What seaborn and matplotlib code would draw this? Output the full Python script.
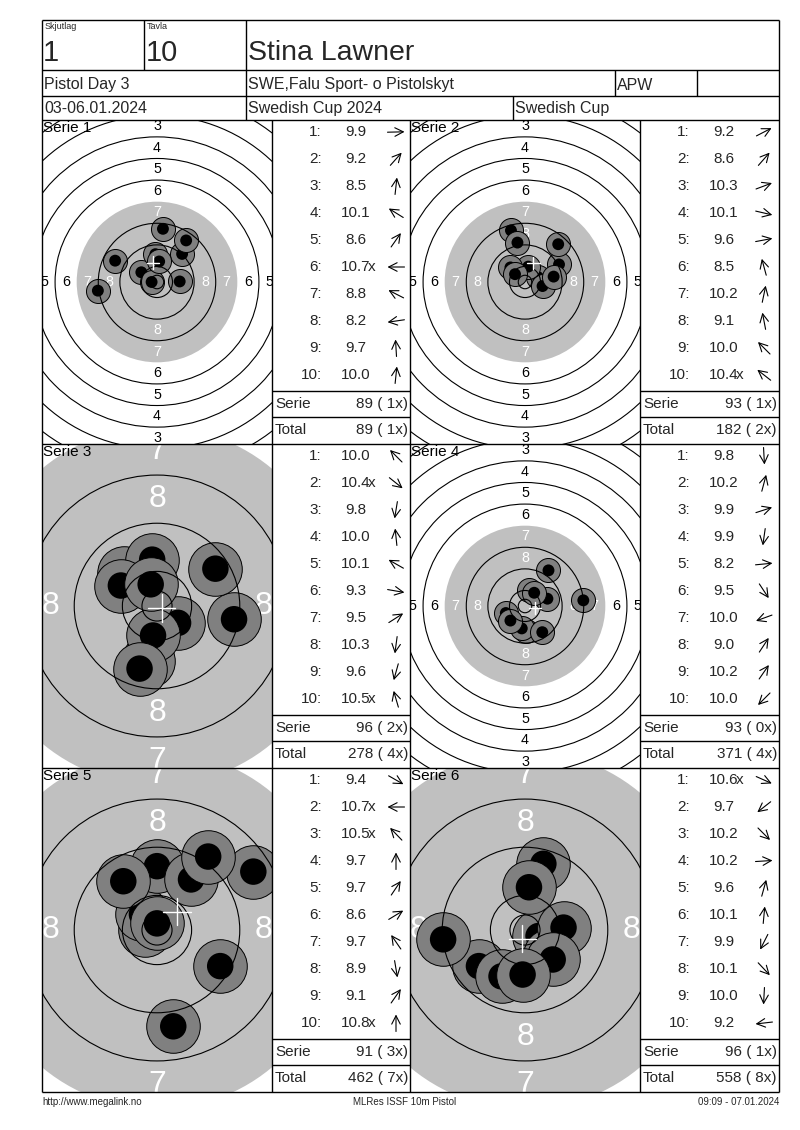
import matplotlib
matplotlib.use("Agg")
import numpy as np
import pandas as pd
import matplotlib.pyplot as plt
from matplotlib.patches import Circle
import seaborn as sns

# ---------------- data ----------------
squad_label, squad = "Skjutlag", "1"
lane_label, lane = "Tavla", "10"
shooter = "Stina Lawner"
event = "Pistol Day 3"
club = "SWE,Falu Sport- o Pistolskyt"
shooter_class = "APW"
dates = "03-06.01.2024"
competition = "Swedish Cup 2024"
cup = "Swedish Cup"
footer_left = "http://www.megalink.no"
footer_mid = "MLRes ISSF 10m Pistol"
footer_right = "09:09 - 07.01.2024"

series_names = ["Serie 1", "Serie 2", "Serie 3", "Serie 4", "Serie 5", "Serie 6"]

s1_scores = [9.9, 9.2, 8.5, 10.1, 8.6, 10.7, 8.8, 8.2, 9.7, 10.0]
s1_inner = [0, 0, 0, 0, 0, 1, 0, 0, 0, 0]
s1_x = [8.4, 9.3, 2.2, -5.8, 10.8, -2.0, -15.5, -21.9, -0.6, 0.8]
s1_y = [0.2, 10.4, 19.7, 3.6, 15.4, 0.0, 7.9, -3.2, 10.3, 7.6]

s2_scores = [9.2, 8.6, 10.3, 10.1, 9.6, 8.5, 10.2, 9.1, 10.0, 10.4]
s2_inner = [0, 0, 0, 0, 0, 0, 0, 0, 0, 1]
s2_x = [12.6, 12.3, 4.8, 6.5, 10.6, -5.2, 1.2, -2.8, -5.4, -3.7]
s2_y = [6.5, 14.0, 1.8, -1.5, 2.0, 19.1, 5.7, 14.6, 5.4, 2.9]

s3_scores = [10.0, 10.4, 9.8, 10.0, 10.1, 9.3, 9.5, 10.3, 9.6, 10.5]
s3_inner = [0, 1, 0, 0, 0, 0, 0, 0, 0, 1]
s3_x = [-5.4, 3.5, -1.5, -0.8, -6.0, 12.8, 9.7, -0.66, -2.9, -1.05]
s3_y = [5.4, -2.8, -9.1, 7.7, 3.4, -2.2, 6.2, -4.9, -10.4, 3.6]

s4_scores = [9.8, 10.2, 9.9, 9.9, 8.2, 9.5, 10.0, 9.0, 10.2, 10.0]
s4_inner = [0, 0, 0, 0, 0, 0, 0, 0, 0, 0]
s4_x = [0.5, 1.55, 8.3, -1.2, 21.6, 6.4, -7.1, 8.7, 3.4, -5.4]
s4_y = [-9.2, 5.8, 2.7, -8.3, 2.1, -9.7, -2.6, 13.2, 4.9, -5.4]

s5_scores = [9.4, 10.7, 10.5, 9.7, 9.7, 8.6, 9.7, 8.9, 9.1, 10.8]
s5_inner = [0, 1, 1, 0, 0, 0, 0, 0, 0, 1]
s5_x = [10.5, -2.0, -2.5, 0.0, 5.65, 16.0, -5.6, 2.7, 8.5, 0.0]
s5_y = [-6.0, 0.0, 2.6, 10.6, 8.4, 9.7, 8.1, -16.0, 12.2, 1.1]

s6_scores = [10.6, 9.7, 10.2, 10.2, 9.6, 10.1, 9.9, 10.1, 10.0, 9.2]
s6_inner = [1, 0, 0, 0, 0, 0, 0, 0, 0, 0]
s6_x = [2.25, -7.65, 4.2, 6.4, 3.05, 0.66, -3.9, 4.6, -0.4, -13.6]
s6_y = [-1.0, -6.0, -4.2, 0.4, 11.0, 7.1, -7.7, -4.9, -7.4, -1.55]

serie_sum = [89, 93, 96, 93, 91, 96]
serie_inner = [1, 1, 2, 0, 3, 1]
total_sum = [89, 182, 278, 371, 462, 558]
total_inner = [1, 2, 4, 4, 7, 8]

# ---------------- style / layout ----------------
W, H = 800, 1130
view_ppm = [2.70, 2.70, 6.02, 2.70, 6.02, 6.02]   # pixels per mm for each target view
FONT = ["Liberation Sans", "DejaVu Sans"]

sns.set_theme(style="white")
plt.rcParams["font.family"] = FONT

series = [
    (s1_scores, s1_inner, s1_x, s1_y),
    (s2_scores, s2_inner, s2_x, s2_y),
    (s3_scores, s3_inner, s3_x, s3_y),
    (s4_scores, s4_inner, s4_x, s4_y),
    (s5_scores, s5_inner, s5_x, s5_y),
    (s6_scores, s6_inner, s6_x, s6_y),
]

fig = plt.figure(figsize=(W / 100, H / 100), dpi=100)
fig.patch.set_facecolor("white")

def frac(x0, y0, w, h):
    return [x0 / W, 1 - (y0 + h) / H, w / W, h / H]

LEFT, RIGHT = 42, 779
ROW_TOPS = [120, 444, 768]
PH = 324
TGT_X = [42, 410]
TGT_W = 230
TAB_X = [272, 640]
TAB_W = [138, 139]

GRAY = "#C0C0C0"
SHOT_GRAY = "#808080"
ring_outer = {k: 5.75 + (10 - k) * 8 for k in range(1, 11)}

for i, (scores, inner, xs, ys) in enumerate(series):
    r, c = divmod(i, 2)
    top = ROW_TOPS[r]
    ax = fig.add_axes(frac(TGT_X[c], top, TGT_W, PH))
    ppm = view_ppm[i]
    ptmm = ppm * 72 / 100
    hx = TGT_W / 2 / ppm
    hy = PH / 2 / ppm
    ax.add_patch(Circle((0, 0), ring_outer[7], facecolor=GRAY, edgecolor="none", zorder=1))
    for k in range(1, 11):
        if k == 7:
            continue
        ax.add_patch(Circle((0, 0), ring_outer[k], fill=False, edgecolor="black", lw=0.8, zorder=5))
    ax.add_patch(Circle((0, 0), 2.5, fill=False, edgecolor="black", lw=0.8, zorder=5))
    fs = 5.3 * ptmm
    for k in range(1, 9):
        rr = 1.75 + (10 - k) * 8
        col = "white" if k >= 7 else "black"
        spots = []
        if rr < hy:
            spots += [(0, rr), (0, -rr)]
        if rr < hx:
            spots += [(rr, 0), (-rr, 0)]
        for (px, py) in spots:
            ax.text(px, py, str(k), ha="center", va="center", fontsize=fs, color=col,
                    clip_on=True, zorder=2)
    df = pd.DataFrame({"x": xs, "y": ys})
    s_out = (2 * 4.45 * ptmm) ** 2
    s_in = (2 * 2.2 * ptmm) ** 2
    for j in range(len(df)):
        row = df.iloc[[j]]
        sns.scatterplot(data=row, x="x", y="y", ax=ax, s=s_out, color=SHOT_GRAY,
                        edgecolor="black", linewidth=0.7, legend=False, zorder=3)
        sns.scatterplot(data=row, x="x", y="y", ax=ax, s=s_in, color="black",
                        edgecolor="none", linewidth=0, legend=False, zorder=3)
    mx, my = df["x"].mean(), df["y"].mean()
    cl = 2.3
    ax.plot([mx - cl, mx + cl], [my, my], color="white", lw=1.0, zorder=6)
    ax.plot([mx, mx], [my - cl, my + cl], color="white", lw=1.0, zorder=6)
    ax.set_xlim(-hx, hx)
    ax.set_ylim(-hy, hy)
    ax.set_axis_off()
    ax.set_facecolor("white")
    ax.text(0.004, 0.998, series_names[i], transform=ax.transAxes, ha="left", va="top",
            fontsize=11, color="black", zorder=10)

# ---------------- overlay: grid, header, tables ----------------
ov = fig.add_axes([0, 0, 1, 1], zorder=10)
ov.set_xlim(0, W)
ov.set_ylim(H, 0)
ov.set_axis_off()
ov.patch.set_alpha(0)

def hline(y, x0=LEFT, x1=RIGHT):
    ov.plot([x0, x1], [y, y], color="black", lw=1.0, solid_capstyle="butt")

def vline(x, y0, y1):
    ov.plot([x, x], [y0, y1], color="black", lw=1.0, solid_capstyle="butt")

BOTTOM = 1092
for y in [20, 70, 96, 120, 444, 768, BOTTOM]:
    hline(y)
vline(LEFT, 20, BOTTOM)
vline(RIGHT, 20, BOTTOM)
vline(144, 20, 70)
vline(246, 20, 120)
vline(615, 70, 96)
vline(697, 70, 96)
vline(513, 96, 120)
for x in [272, 410, 640]:
    vline(x, 120, BOTTOM)

ov.text(45, 22, squad_label, fontsize=6.5, ha="left", va="top")
ov.text(147, 22, lane_label, fontsize=6.5, ha="left", va="top")
ov.text(43, 53, squad, fontsize=21, ha="left", va="center")
ov.text(146, 53, lane, fontsize=21, ha="left", va="center")
ov.text(248, 53, shooter, fontsize=20.5, ha="left", va="center")
ov.text(44, 85, event, fontsize=11.5, ha="left", va="center")
ov.text(248, 85, club, fontsize=11.5, ha="left", va="center")
ov.text(617, 85, shooter_class, fontsize=11.5, ha="left", va="center")
ov.text(44, 108.5, dates, fontsize=11.5, ha="left", va="center")
ov.text(248, 108.5, competition, fontsize=11.5, ha="left", va="center")
ov.text(515, 108.5, cup, fontsize=11.5, ha="left", va="center")

TFS = 11
for i, (scores, inner, xs, ys) in enumerate(series):
    r, c = divmod(i, 2)
    top = ROW_TOPS[r]
    x0 = TAB_X[c]
    w = TAB_W[c]
    for k in range(10):
        y = top + 12 + 27 * k
        ov.text(x0 + 50, y, f"{k + 1}:", fontsize=TFS, ha="right", va="center")
        num = f"{scores[k]:.1f}"
        ov.text(x0 + 84, y, num, fontsize=TFS, ha="center", va="center")
        if inner[k]:
            ov.text(x0 + 84 + 0.5 * len(num) * 6.9 - 1.5, y, "x", fontsize=TFS, ha="left", va="center")
        ang = np.arctan2(ys[k], xs[k])
        L = 17
        cx, cy = x0 + 124, y
        dx, dy = np.cos(ang) * L / 2, -np.sin(ang) * L / 2
        ov.annotate("", xy=(cx + dx, cy + dy), xytext=(cx - dx, cy - dy),
                    arrowprops=dict(arrowstyle="->,head_length=0.55,head_width=0.28", lw=0.8,
                                    color="black", shrinkA=0, shrinkB=0, mutation_scale=11))
    hline(top + 271, x0, x0 + w)
    hline(top + 297, x0, x0 + w)
    ov.text(x0 + 3, top + 284, "Serie", fontsize=TFS, ha="left", va="center")
    ov.text(x0 + w - 2, top + 284, f"{serie_sum[i]} ({serie_inner[i]:2d}x)", fontsize=TFS,
            ha="right", va="center")
    ov.text(x0 + 3, top + 310, "Total", fontsize=TFS, ha="left", va="center")
    ov.text(x0 + w - 2, top + 310, f"{total_sum[i]} ({total_inner[i]:2d}x)", fontsize=TFS,
            ha="right", va="center")

ov.text(42, 1102, footer_left, fontsize=7, ha="left", va="center")
ov.text(405, 1102, footer_mid, fontsize=7, ha="center", va="center")
ov.text(779, 1102, footer_right, fontsize=7, ha="right", va="center")

fig.savefig("out.png", dpi=100, facecolor="white")
